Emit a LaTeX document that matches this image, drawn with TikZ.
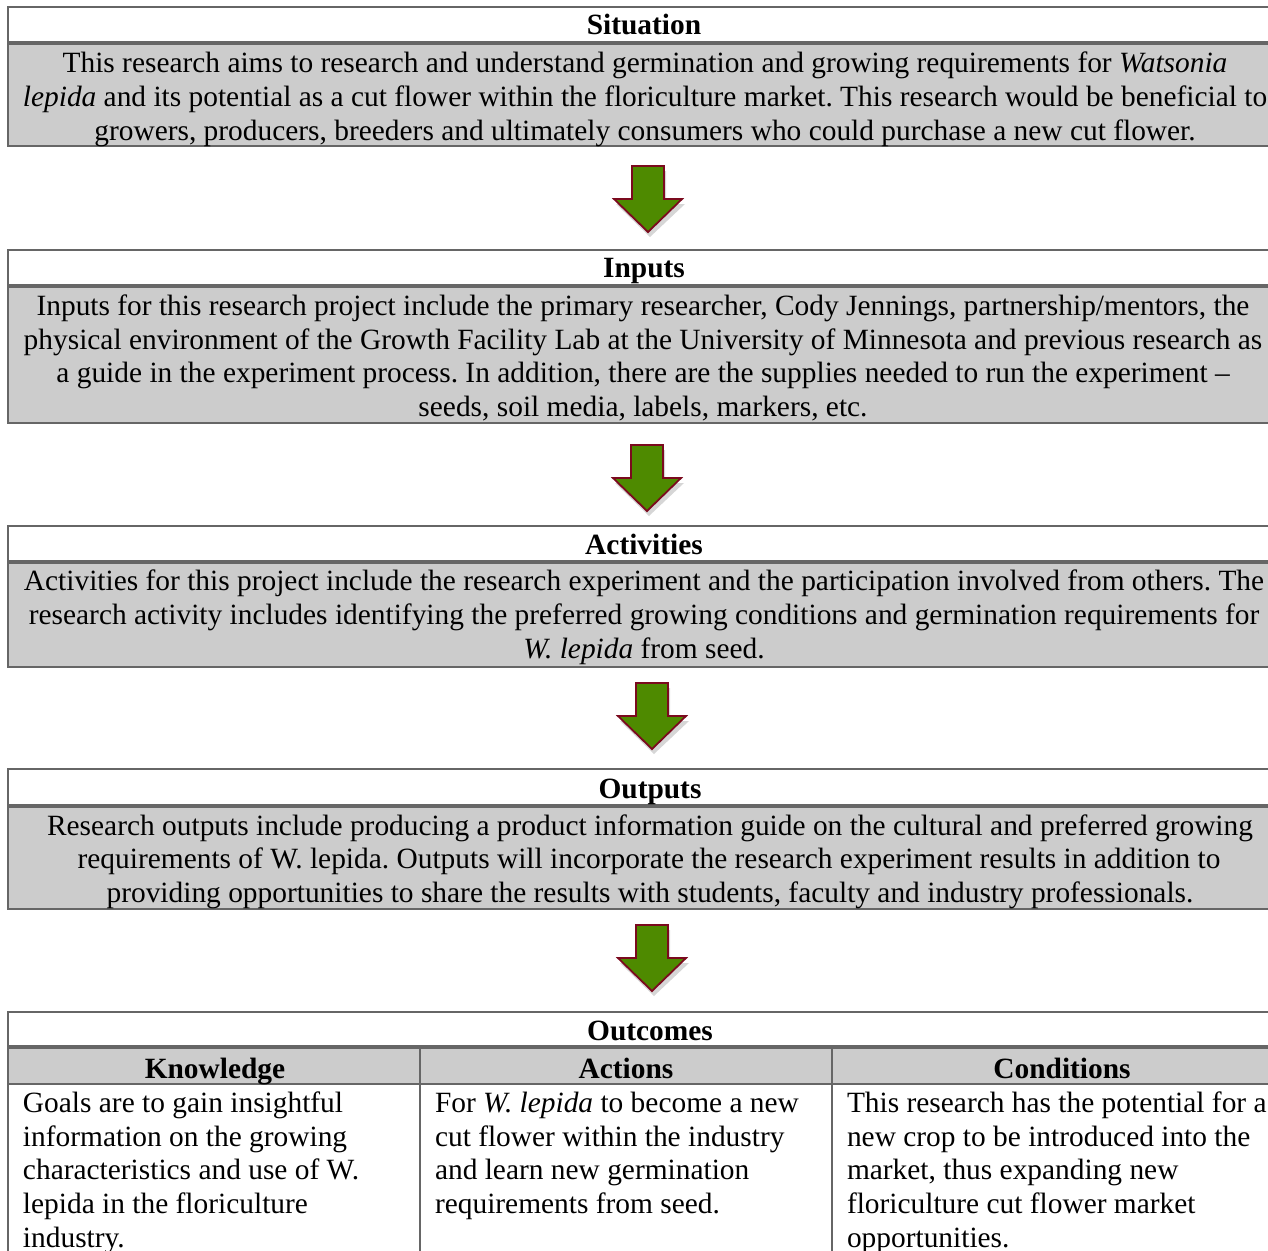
\documentclass[tikz,border=0pt]{standalone}
\usepackage{fontspec}
\setmainfont{Liberation Serif}
\frenchspacing
\definecolor{boxline}{HTML}{666666}
\definecolor{bodygray}{HTML}{CCCCCC}
\definecolor{arrowgreen}{HTML}{4E8A00}
\definecolor{arrowred}{HTML}{7B0A1E}
\tikzset{
  frame/.style={draw=boxline, line width=2.6pt, rectangle, anchor=north west, inner sep=0pt, outer sep=0pt},
  headbox/.style={frame, fill=white, minimum width=1282pt},
  bodybox/.style={frame, fill=bodygray, minimum width=1282pt},
  cellhead/.style={draw=boxline, line width=1.6pt, fill=bodygray, rectangle, anchor=north west, inner sep=0pt, outer sep=0pt, minimum height=37pt},
  cellbody/.style={draw=boxline, line width=1.6pt, fill=white, rectangle, anchor=north west, inner sep=0pt, outer sep=0pt, minimum height=190pt},
  divider/.style={draw=boxline, line width=3.5pt},
  txt/.style={anchor=base, inner sep=0pt, outer sep=0pt, font=\fontsize{29.4}{33.7}\selectfont},
  hd/.style={txt, font=\fontsize{29.4}{33.7}\selectfont\bfseries},
  ltxt/.style={txt, anchor=base west},
  blockarrow/.pic={
    \fill[black, opacity=.16] (-14,5) -- (18,5) -- (18,38) -- (37,38) -- (2,71) -- (-32,38) -- (-14,38) -- cycle;
    \draw[draw=arrowred, fill=arrowgreen, line width=1.8pt, line join=miter]
      (-16,0) -- (16,0) -- (16,33) -- (34,33) -- (0,66) -- (-34,33) -- (-16,33) -- cycle;
  }
}
\begin{document}
\begin{tikzpicture}[x=1pt,y=-1pt]
\useasboundingbox (0,0) rectangle (1268,1250);
\clip (0,0) rectangle (1268,1250);

% ---------- Situation ----------
\node[headbox, minimum height=36pt] (h1) at (8,7) {};
\node[bodybox, minimum height=103pt] (b1) at (8,43) {};
\draw[divider] (h1.south west) -- (h1.south east);
\node[hd] (t1) at (644,34) {Situation};
\node[txt] (s1) at (645,72) {This research aims to research and understand germination and growing requirements for \textit{Watsonia}};
\node[txt] (s2) at (645,106) {\textit{lepida} and its potential as a cut flower within the floriculture market. This research would be beneficial to};
\node[txt] (s3) at (645,140) {growers, producers, breeders and ultimately consumers who could purchase a new cut flower.};

\pic at (648,166) {blockarrow};

% ---------- Inputs ----------
\node[headbox, minimum height=36pt] (h2) at (8,250) {};
\node[bodybox, minimum height=137pt] (b2) at (8,286) {};
\draw[divider] (h2.south west) -- (h2.south east);
\node[hd] (t2) at (644,277) {Inputs};
\node[txt] (i1) at (643,315) {Inputs for this research project include the primary researcher, Cody Jennings, partnership/mentors, the};
\node[txt] (i2) at (643,349) {physical environment of the Growth Facility Lab at the University of Minnesota and previous research as};
\node[txt] (i3) at (643,382) {a guide in the experiment process. In addition, there are the supplies needed to run the experiment –};
\node[txt] (i4) at (643,416) {seeds, soil media, labels, markers, etc.};

\pic at (647,445) {blockarrow};

% ---------- Activities ----------
\node[headbox, minimum height=36pt] (h3) at (8,526) {};
\node[bodybox, minimum height=105pt] (b3) at (8,562) {};
\draw[divider] (h3.south west) -- (h3.south east);
\node[hd] (t3) at (644,554) {Activities};
\node[txt] (a1) at (644,590) {Activities for this project include the research experiment and the participation involved from others. The};
\node[txt] (a2) at (644,624) {research activity includes identifying the preferred growing conditions and germination requirements for};
\node[txt] (a3) at (644,658) {\textit{W. lepida} from seed.};

\pic at (652,683) {blockarrow};

% ---------- Outputs ----------
\node[headbox, minimum height=37pt] (h4) at (8,769) {};
\node[bodybox, minimum height=103pt] (b4) at (8,806) {};
\draw[divider] (h4.south west) -- (h4.south east);
\node[hd] (t4) at (650,798) {Outputs};
\node[txt] (o1) at (650,835) {Research outputs include producing a product information guide on the cultural and preferred growing};
\node[txt] (o2) at (649,868) {requirements of W. lepida. Outputs will incorporate the research experiment results in addition to};
\node[txt] (o3) at (650,902) {providing opportunities to share the results with students, faculty and industry professionals.};

\pic at (652,925) {blockarrow};

% ---------- Outcomes ----------
\node[cellbody, minimum width=412pt] (kb) at (8,1084) {};
\node[cellbody, minimum width=412pt] (ab) at (420,1084) {};
\node[cellbody, minimum width=470pt] (cb) at (832,1084) {};
\node[cellhead, minimum width=412pt] (kh) at (8,1047) {};
\node[cellhead, minimum width=412pt] (ah) at (420,1047) {};
\node[cellhead, minimum width=470pt] (ch) at (832,1047) {};
\node[headbox, minimum height=35pt] (h5) at (8,1012) {};
\draw[draw=boxline, line width=2.6pt] (h5.south west) -- (kb.south west);
\draw[divider] (h5.south west) -- (h5.south east);
\node[hd] (t5) at (650,1040) {Outcomes};
\node[hd] (kt) at (215,1078) {Knowledge};
\node[hd] (at) at (626,1078) {Actions};
\node[hd] (ct) at (1062,1078) {Conditions};

\node[ltxt] (k1) at (23,1112) {Goals are to gain insightful};
\node[ltxt] (k2) at (23,1146) {information on the growing};
\node[ltxt] (k3) at (23,1179) {characteristics and use of W.};
\node[ltxt] (k4) at (23,1213) {lepida in the floriculture};
\node[ltxt] (k5) at (23,1247) {industry.};

\node[ltxt] (p1) at (435,1112) {For \textit{W. lepida} to become a new};
\node[ltxt] (p2) at (435,1146) {cut flower within the industry};
\node[ltxt] (p3) at (435,1179) {and learn new germination};
\node[ltxt] (p4) at (435,1213) {requirements from seed.};

\node[ltxt] (c1) at (847,1112) {This research has the potential for a};
\node[ltxt] (c2) at (847,1146) {new crop to be introduced into the};
\node[ltxt] (c3) at (847,1179) {market, thus expanding new};
\node[ltxt] (c4) at (847,1213) {floriculture cut flower market};
\node[ltxt] (c5) at (847,1247) {opportunities.};
\end{tikzpicture}
\end{document}
